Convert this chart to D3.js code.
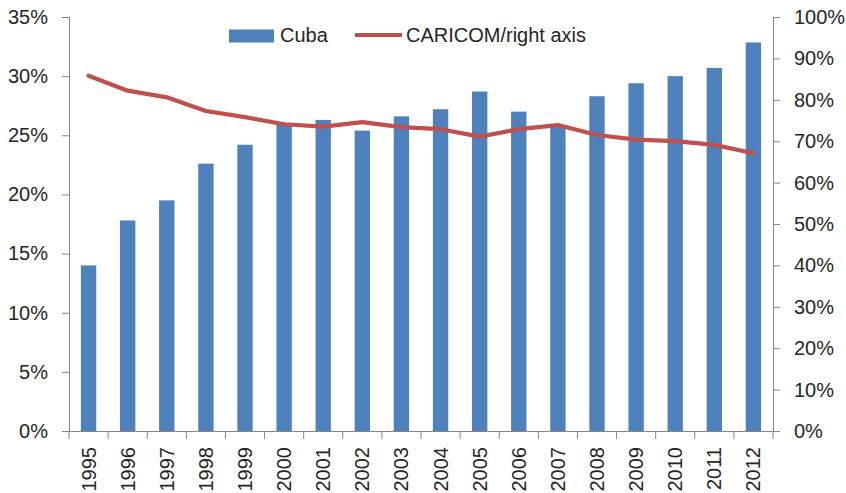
<!DOCTYPE html>
<html>
<head>
<meta charset="utf-8">
<script src="https://cdn.jsdelivr.net/npm/d3@7"></script>
<style>
  html, body { margin: 0; padding: 0; background: #fff; }
  svg { display: block; }
  text { font-family: "Liberation Sans", Arial, sans-serif; fill: #262626; }
</style>
</head>
<body>
<svg id="chart" width="846" height="493"></svg>
<script>
const years = ["1995","1996","1997","1998","1999","2000","2001","2002","2003","2004","2005","2006","2007","2008","2009","2010","2011","2012"];
const cuba = [14.0, 17.8, 19.5, 22.6, 24.2, 26.0, 26.3, 25.4, 26.6, 27.2, 28.7, 27.0, 25.8, 28.3, 29.4, 30.0, 30.7, 32.85];
const caricom = [85.8, 82.2, 80.6, 77.3, 75.8, 74.1, 73.5, 74.6, 73.4, 72.9, 71.1, 72.9, 73.9, 71.5, 70.4, 70.0, 69.1, 67.1];
const leftTicks = [0, 5, 10, 15, 20, 25, 30, 35];
const rightTicks = [0, 10, 20, 30, 40, 50, 60, 70, 80, 90, 100];
const seriesNames = ["Cuba", "CARICOM/right axis"];

const svg = d3.select("#chart");
const pLeft = 69, pRight = 773, pTop = 17, pBottom = 431;
const axisColor = "#868686";
const barColor = "#4F81BD";
const lineColor = "#C0504D";
const fs = 20;

const xb = d3.scaleBand().domain(years).range([pLeft, pRight]);
const yL = d3.scaleLinear().domain([0, 35]).range([pBottom, pTop]);
const yR = d3.scaleLinear().domain([0, 100]).range([pBottom, pTop]);
const barW = xb.bandwidth() * 0.393;

// bars
svg.append("g").selectAll("rect").data(years).join("rect")
  .attr("x", d => xb(d) + xb.bandwidth() / 2 - barW / 2)
  .attr("width", barW)
  .attr("y", (d, i) => yL(cuba[i]))
  .attr("height", (d, i) => yL(0) - yL(cuba[i]))
  .attr("fill", barColor);

// line
const line = d3.line()
  .x((d, i) => xb(years[i]) + xb.bandwidth() / 2)
  .y(d => yR(d));
svg.append("path").datum(caricom)
  .attr("d", line)
  .attr("fill", "none")
  .attr("stroke", lineColor)
  .attr("stroke-width", 4.2)
  .attr("stroke-linejoin", "round")
  .attr("stroke-linecap", "round");

// left axis
const gL = svg.append("g").attr("transform", `translate(${pLeft},0)`)
  .call(d3.axisLeft(yL).tickValues(leftTicks).tickFormat(d => d + "%").tickSizeOuter(0).tickSize(7).tickPadding(14));
// right axis
const gR = svg.append("g").attr("transform", `translate(${pRight},0)`)
  .call(d3.axisRight(yR).tickValues(rightTicks).tickFormat(d => d + "%").tickSizeOuter(0).tickSize(7).tickPadding(14));
// bottom axis
const gB = svg.append("g").attr("transform", `translate(0,${pBottom})`)
  .call(d3.axisBottom(xb).tickSize(0).tickSizeOuter(0));
// boundary ticks for x
const bounds = years.map(d => xb(d)).concat([pRight]);
svg.append("g").selectAll("line").data(bounds).join("line")
  .attr("x1", d => d).attr("x2", d => d)
  .attr("y1", pBottom).attr("y2", pBottom + 8)
  .attr("stroke", axisColor);

gB.selectAll(".tick text")
  .attr("transform", "rotate(-90)")
  .attr("x", -16)
  .attr("y", 0)
  .attr("dy", "0.35em")
  .style("text-anchor", "end");

[gL, gR, gB].forEach(g => {
  g.selectAll("path.domain").attr("stroke", axisColor);
  g.selectAll(".tick line").attr("stroke", axisColor);
  g.selectAll(".tick text").attr("font-size", fs).attr("font-family", "Liberation Sans, Arial, sans-serif").attr("fill", "#262626");
});

// legend
const lg = svg.append("g");
lg.append("rect").attr("x", 229).attr("y", 29.5).attr("width", 45).attr("height", 13).attr("fill", barColor);
lg.append("text").attr("x", 280).attr("y", 42).attr("font-size", fs).text(seriesNames[0]);
lg.append("line").attr("x1", 355).attr("x2", 402).attr("y1", 35).attr("y2", 35)
  .attr("stroke", lineColor).attr("stroke-width", 4.2);
lg.append("text").attr("x", 406).attr("y", 42).attr("font-size", fs).text(seriesNames[1]);
</script>
</body>
</html>
